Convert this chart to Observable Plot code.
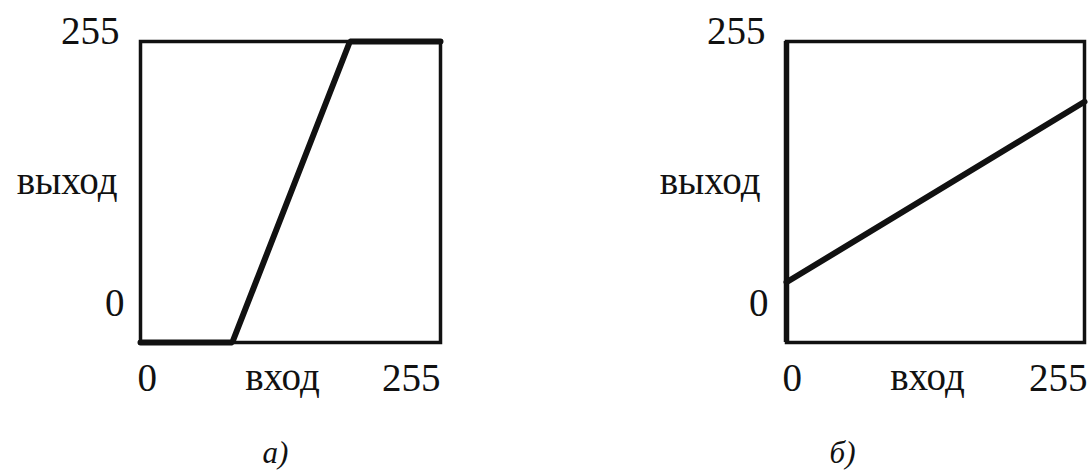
<!DOCTYPE html>
<html>
<head>
<meta charset="utf-8">
<script src="https://cdn.jsdelivr.net/npm/d3@7"></script>
<script src="https://cdn.jsdelivr.net/npm/@observablehq/plot@0.6"></script>
<style>
  html, body { margin: 0; padding: 0; background: #fff; }
  #row { display: flex; flex-direction: row; width: 1090px; height: 470px; }
</style>
</head>
<body>
<div id="row"></div>
<script>
// Panel a): thresholded contrast stretch
const inputA = [0, 78, 178, 255];
const outputA = [0, 0, 255, 255];
// Panel b): linear brightness/contrast mapping
const inputB = [0, 255];
const outputB = [51, 204];

const tickValues = [0, 255];
const xLabel = "вход";
const yLabel = "выход";
const captions = ["а)", "б)"];

const FONT = "Liberation Serif, Times New Roman, serif";
const INK = "#111";

function panel({xs, ys, marginLeft, marginRight, caption, captionDx, boldLeft, yDx0, yDx255, yLabelDx, xDx0, xDx255}) {
  const rows = xs.map((x, i) => ({x, y: ys[i]}));
  const marks = [
    Plot.frame({stroke: INK, strokeWidth: 3.5}),
  ];
  if (boldLeft) marks.push(Plot.ruleX([tickValues[0]], {x: d => d, stroke: INK, strokeWidth: 5.5}));
  marks.push(
    Plot.line(rows, {x: "x", y: "y", stroke: INK, strokeWidth: 6, strokeLinejoin: "miter"}),
    // y tick labels
    Plot.text([tickValues[1]], {y: d => d, frameAnchor: "left", text: d => String(d), textAnchor: "end", lineAnchor: "bottom", dx: yDx255, dy: 2, fontSize: 39, fontFamily: FONT, fill: INK}),
    Plot.text([tickValues[0]], {y: d => d, frameAnchor: "left", text: d => String(d), textAnchor: "end", lineAnchor: "bottom", dx: yDx0, dy: -27, fontSize: 39, fontFamily: FONT, fill: INK}),
    // y axis label
    Plot.text([yLabel], {frameAnchor: "left", text: d => d, textAnchor: "end", lineAnchor: "bottom", dx: yLabelDx, dy: 2, fontSize: 39, fontFamily: FONT, fill: INK}),
    // x tick labels
    Plot.text([tickValues[0]], {x: d => d, frameAnchor: "bottom", text: d => String(d), textAnchor: "start", lineAnchor: "bottom", dx: xDx0, dy: 48, fontSize: 39, fontFamily: FONT, fill: INK}),
    Plot.text([tickValues[1]], {x: d => d, frameAnchor: "bottom", text: d => String(d), textAnchor: "end", lineAnchor: "bottom", dx: xDx255, dy: 48, fontSize: 39, fontFamily: FONT, fill: INK}),
    // x axis label
    Plot.text([xLabel], {frameAnchor: "bottom", text: d => d, textAnchor: "middle", lineAnchor: "bottom", dx: -8, dy: 47, fontSize: 39, fontFamily: FONT, fill: INK}),
    // caption
    Plot.text([caption], {frameAnchor: "bottom", text: d => d, textAnchor: "middle", lineAnchor: "bottom", dx: captionDx, dy: 120, fontSize: 31, fontStyle: "italic", fontFamily: FONT, fill: INK})
  );
  return Plot.plot({
    width: 545,
    height: 470,
    marginLeft,
    marginRight,
    marginTop: 41,
    marginBottom: 128,
    x: {domain: [0, 255], axis: null},
    y: {domain: [0, 255], axis: null},
    style: {background: "#fff", overflow: "visible"},
    marks
  });
}

const row = document.getElementById("row");
row.append(panel({xs: inputA, ys: outputA, marginLeft: 140, marginRight: 105, caption: captions[0], captionDx: -15, boldLeft: false, yDx0: -16, yDx255: -21, yLabelDx: -23, xDx0: -3, xDx255: 0}));
row.append(panel({xs: inputB, ys: outputB, marginLeft: 241, marginRight: 6, caption: captions[1], captionDx: -93, boldLeft: true, yDx0: -18, yDx255: -21, yLabelDx: -26, xDx0: -4, xDx255: 3}));
</script>
</body>
</html>
